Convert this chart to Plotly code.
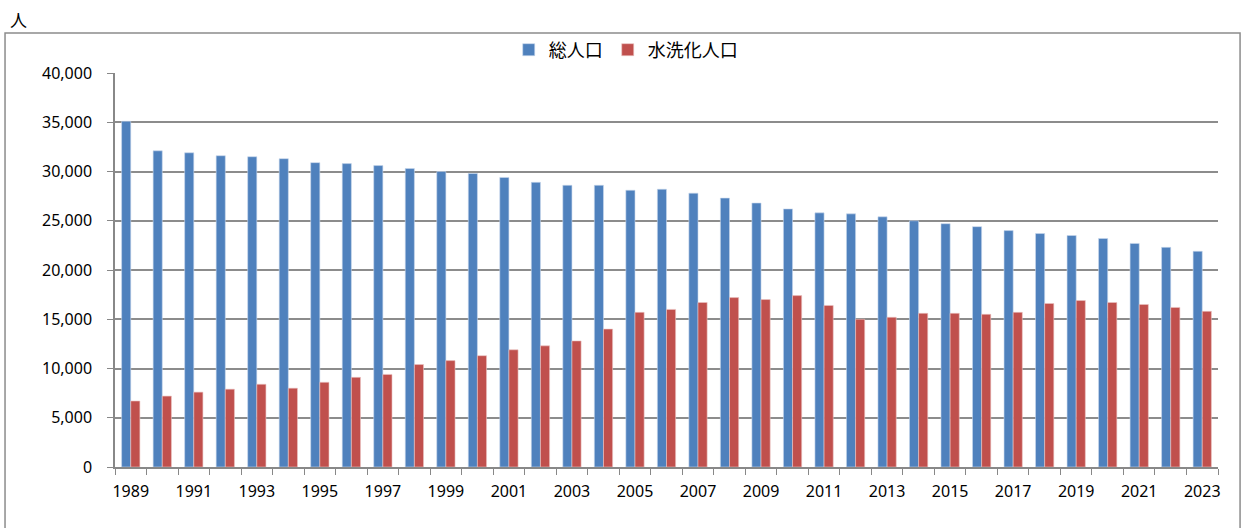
import plotly.graph_objects as go

years = [str(y) for y in range(1989, 2024)]
total_pop = [35100, 32100, 31900, 31600, 31500, 31300, 30900, 30800, 30600, 30300,
             30000, 29800, 29400, 28900, 28600, 28600, 28100, 28200, 27800, 27300,
             26800, 26200, 25800, 25700, 25400, 25000, 24700, 24400, 24000, 23700,
             23500, 23200, 22700, 22300, 21900]
flush_pop = [6700, 7200, 7600, 7900, 8400, 8000, 8600, 9100, 9400, 10400,
             10800, 11300, 11900, 12300, 12800, 14000, 15700, 16000, 16700, 17200,
             17000, 17400, 16400, 15000, 15200, 15600, 15600, 15500, 15700, 16600,
             16900, 16700, 16500, 16200, 15800]
tick_text = [y if (int(y) - 1989) % 2 == 0 else "" for y in years]

fig = go.Figure()
fig.add_trace(go.Bar(x=years, y=total_pop, name="総人口",
                     marker=dict(color="#4F81BD", line=dict(color="#C9D8EC", width=0.6))))
fig.add_trace(go.Bar(x=years, y=flush_pop, name="水洗化人口",
                     marker=dict(color="#C0504D", line=dict(color="#EBC4C3", width=0.6))))

fig.update_layout(
    width=1244, height=528,
    margin=dict(l=115, r=26, t=73, b=61, autoexpand=False),
    paper_bgcolor="white", plot_bgcolor="white",
    barmode="group", bargap=0.42, bargroupgap=0,
    font=dict(family="Noto Sans CJK JP, Noto Sans, sans-serif", size=16, color="#000"),
    showlegend=True,
    legend=dict(orientation="h", xref="container", yref="container",
                x=0.503, xanchor="center", y=1 - 50 / 528, yanchor="middle",
                bgcolor="rgba(0,0,0,0)", itemwidth=30,
                font=dict(size=18), traceorder="normal"),
    xaxis=dict(type="category", tickmode="array", tickvals=years, ticktext=tick_text,
               tickangle=0,
               tickson="boundaries", ticks="outside", ticklen=6, tickcolor="#888",
               showline=True, linecolor="#888", linewidth=1.5,
               showgrid=False, ticklabelstandoff=9,
               tickfont=dict(family="Noto Sans, sans-serif", size=16)),
    yaxis=dict(range=[0, 40000], dtick=5000, tickformat=",d",
               showgrid=True, gridcolor="#8C8C8C", gridwidth=1.5,
               showline=True, linecolor="#888", linewidth=1.5,
               ticks="outside", ticklen=6, tickcolor="#888", ticklabelstandoff=12,
               zeroline=False, tickfont=dict(family="Noto Sans, sans-serif", size=16)),
    shapes=[dict(type="rect", xref="paper", yref="paper",
                 x0=-0.0997, x1=1.0200, y0=-0.20, y1=1.1015,
                 line=dict(color="#8C8C8C", width=1.5), fillcolor="rgba(0,0,0,0)", layer="below")],
    annotations=[dict(text="人", xref="paper", yref="paper", x=-0.097, y=1.172,
                      xanchor="left", yanchor="top", showarrow=False,
                      font=dict(size=17))],
)

fig.write_html("out.html", config={"displayModeBar": False},
               post_script="document.body.style.margin='0';document.body.style.overflow='hidden';")
